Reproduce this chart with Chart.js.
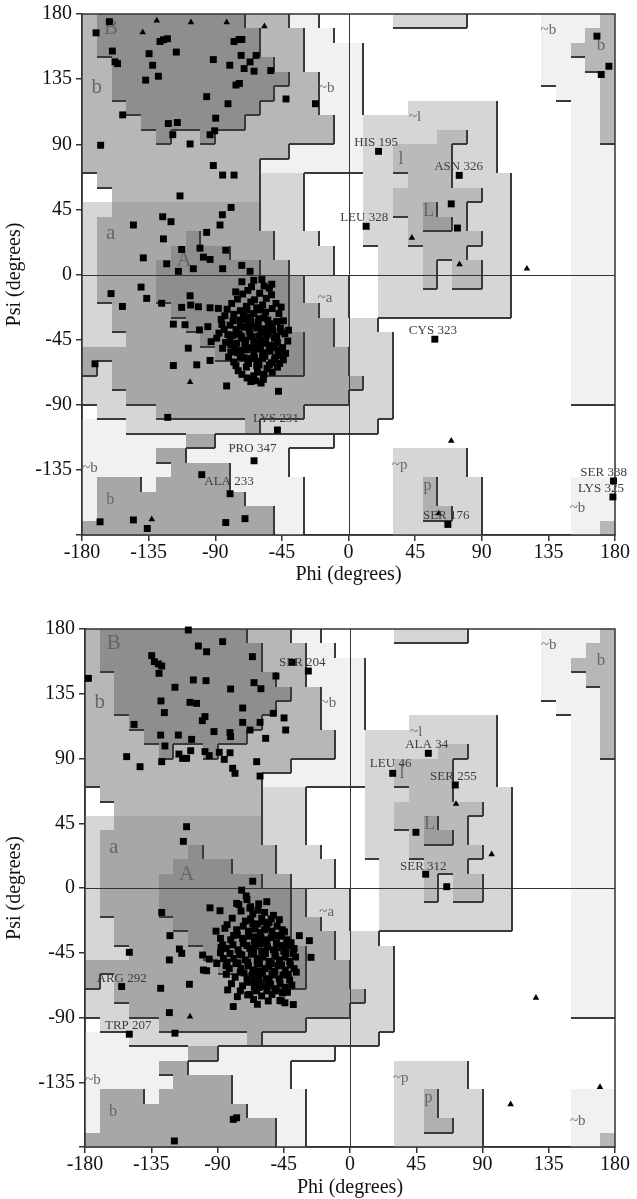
<!DOCTYPE html>
<html>
<head>
<meta charset="utf-8">
<script src="https://cdn.jsdelivr.net/npm/chart.js@4.4.1/dist/chart.umd.min.js"></script>
<style>
  body { margin: 0; background: #fff; }
  canvas { position: absolute; left: 0; }
  #top { top: 0; }
  #bottom { top: 595px; }
</style>
</head>
<body>
<canvas id="top" width="637" height="595"></canvas>
<canvas id="bottom" width="637" height="604"></canvas>
<script>
// tick values for both axes
var tickValues = [-180, -135, -90, -45, 0, 45, 90, 135, 180];

// PROCHECK region map, 10 degree cells, one row per psi band from 180 down to -180,
// run-length coded from phi -180 to 180.
// C core, b/a allowed, l/p allowed, L core, g generous, v generous (light), . disallowed
var regionRows = [
  "b1 C10 b3 v2 .5 g5 .5 v4 b1",
  "b1 C11 b3 v2 .14 v3 b2",
  "b1 C11 b3 v4 .12 v2 b3",
  "b2 C11 b2 v4 .12 v3 b2",
  "b2 C12 b2 v3 .12 v4 b1",
  "b2 C11 b3 v3 .13 v3 b1",
  "b3 C9 b4 v3 .3 g6 .5 v2 b1",
  "b4 C7 b6 v2 g9 .5 v2 b1",
  "b5 C1 b2 C1 b8 v2 g5 l2 g2 .5 v2 b1",
  "b14 v5 g2 l4 g3 .5 v3",
  "b12 v7 g2 l4 g3 .5 v3",
  ".1 b11 g3 .4 g3 l3 g4 .4 v3",
  ".2 b10 g3 .4 g2 l6 g2 .4 v3",
  "g2 a10 g3 .4 g2 l2 L1 l2 g3 .4 v3",
  "g1 a11 g3 .4 g3 l1 L2 l1 g3 .4 v3",
  "g1 a6 C1 a5 g3 .3 g3 l5 g2 .4 v3",
  "g1 a5 C4 a3 g4 .3 g3 l3 g3 .4 v3",
  "g1 a4 C7 a2 g3 .3 g3 l1 g1 l2 g2 .4 v3",
  "g1 a4 C9 a1 g3 .2 g3 l1 g1 l2 g2 .4 v3",
  "g1 a4 C9 a1 g3 .2 g9 .4 v3",
  "g2 a4 C8 a2 g2 .2 g9 .4 v3",
  "g2 a5 C7 a3 g3 .13 v3",
  "g3 a5 C7 a2 g4 .12 v3",
  "a9 C6 a3 g3 .12 v3",
  "a1 g1 a10 C3 a3 g3 .12 v3",
  "g2 a17 g2 .12 v3",
  "g3 a15 g3 .12 v3",
  ".1 g4 a10 g6 .15",
  "v3 g8 a1 g8 .16",
  "v7 a2 v8 .19",
  "v5 a2 v7 .7 g5 .10",
  "v6 a4 v4 .7 g5 .10",
  "v1 a3 v1 a5 v5 .6 g2 p1 g3 .6 v3",
  "v1 a10 v4 .6 g2 p1 g3 .6 v3",
  "v1 a12 v2 .6 g2 p2 g2 .6 v3",
  "a13 v2 .6 g6 .6 v2 b1"
];

// ---- upper plot: [phi, psi]
var topResidues = [
  [-161.5,174.7],[-170.5,167],[-159.5,154.4],[-157.7,146.9],[-156,145.7],[-152.5,110.3],[-167.4,89.3],
  [-127.3,161],[-125,162.2],[-122.3,162.9],[-134.7,152.6],[-132.3,144.6],[-128.4,137],[-137,134.3],[-116.3,153.7],
  [-95.8,122.9],[-91.3,148.5],[-80.2,144.6],[-81.4,118],[-89.7,108],[-121.7,104.3],[-115.6,105],[-118.7,96.6],
  [-107,90.2],[-93.5,96.6],[-90.4,99.3],[-77.3,161],[-73.9,162.4],[-72,162.4],[-72.5,151.4],[-70.5,142.3],
  [-66.5,146.9],[-63.8,140.5],[-62.4,151.4],[-52.5,140.9],[-73.7,132],[-76,130.9],[-42.2,121.3],[-22.3,118],
  [-91.3,75.3],[-85,68.7],[-77.3,68.7],[-113.8,54.3],[-79.3,46.3],[-85.2,41.3],[-86.8,34.2],[-95.8,29.1],
  [-125.5,39.9],[-119.9,36.5],[-145.3,34.2],[-125,24.6],[-138.6,11.5],[-112.7,17.3],[-100.3,18.2],[-98,12],
  [-93.5,10.4],[-82.9,16.8],[-85,4],[-72.1,6.3],[-122.8,7.4],[-114.9,2.2],[-104.8,4],[-66.5,2.2],
  [-160.4,-13.2],[-152.7,-22.1],[-140.1,-8.7],[-136.3,-16.5],[-126.2,-19.9],[-118.3,-34.3],[-110.4,-34.7],
  [-108.2,-50.9],[-118.3,-62.9],[-102.5,-62.4],[-93.5,-59.4],[-92.8,-46.4],[-171.2,-61.7],[-82.3,-77],
  [-47.3,-80.7],[-122.1,-98.7],[-48,-107.4],[-63.8,-128.7],[-99.1,-138.3],[-80,-151.5],[-167.8,-170.9],
  [-145.3,-169.6],[-135.9,-175.5],[-82.9,-171.4],[-69.9,-168.7],
  [-112.7,-22.7],[-107,-14.7],[-106.6,-21.1],[-101.4,-22.3],[-93.5,-23],[-87.9,-23.4],[-100.7,-38.3],
  [-95,-36],[-76.2,-12],[-78.9,-20],[-51.8,-6.7],
  [-72,-5],[-64,-4],[-57,-8],[-68,-11],[-60,-13],[-52,-14],[-75,-17],[-66,-19],[-58,-21],[-49,-20],
  [-82,-24],[-73,-25],[-64,-27],[-56,-26],[-47,-27],[-86,-31],[-78,-32],[-70,-31],[-61,-33],[-53,-34],
  [-44,-32],[-84,-38],[-76,-38],[-67,-39],[-59,-40],[-51,-39],[-43,-41],[-89,-44],[-80,-45],[-72,-44],
  [-64,-46],[-56,-45],[-48,-47],[-41,-46],[-85,-51],[-77,-51],[-69,-52],[-61,-51],[-53,-53],[-46,-52],
  [-81,-57],[-73,-57],[-66,-58],[-58,-58],[-50,-59],[-44,-59],[-76,-63],[-69,-64],[-62,-63],[-55,-65],
  [-48,-64],[-72,-69],[-64,-70],[-57,-69],[-66,-74],[-59,-75],
  [-68,-35],[-62,-37],[-55,-42],[-70,-48],[-60,-49],[-52,-49],[-65,-43],[-74,-41],[-58,-54],[-64,-55],
  [-50,-44],[-68,-60],[-54,-36],[-71,-28],[-62,-23],[-80,-35],[-57,-30],[-46,-37],[-83,-47],[-75,-54],
  [-61,-60],[-47,-56],[-66,-32],[-52,-61],[-78,-42],[-69,-22],[-59,-46],[-73,-36],
  [-69.5,-36.5],[-63.5,-35.5],[-57.5,-37.5],[-51.5,-36.5],[-45.5,-39.5],[-72.5,-42.5],[-66.5,-41.5],
  [-60.5,-42.5],[-54.5,-40.5],[-48.5,-42.5],[-75.5,-47.5],[-69.5,-45.5],[-62.5,-47.5],[-56.5,-47.5],
  [-50.5,-50.5],[-44.5,-50.5],[-79.5,-53.5],[-72.5,-52.5],[-65.5,-50.5],[-59.5,-51.5],[-53.5,-51.5],
  [-47.5,-54.5],[-70.5,-57.5],[-63.5,-57.5],[-56.5,-56.5],[-49.5,-57.5],[-67.5,-61.5],[-60.5,-62.5],
  [-53.5,-62.5],[-46.5,-61.5],[-73.5,-31.5],[-67.5,-29.5],[-60.5,-30.5],[-54.5,-31.5],[-48.5,-32.5],
  [-77.5,-27.5],[-68.5,-24.5],[-59.5,-24.5],[-51.5,-23.5],[-63.5,-17.5],[-55.5,-16.5],[-81.5,-41.5],
  [-85.5,-34.5],[-79.5,-48.5],[-74.5,-66.5],[-61.5,-67.5],[-51.5,-67.5],[-68.5,-71.5],[-62.5,-73.5],
  [-42.5,-54.5],[-40.5,-38.5],[-87.5,-40.5],[-83.5,-28.5],[-65.5,-8.5],[-58.5,-3.5],[-71.5,-13.5],
  [-53.5,-9.5],[-45.5,-22.5],[-77.5,-60.5],[-57.5,-72.5],
  [20.3,85.1],[74.8,68.5],[69.4,48.8],[73.6,32.1],[11.9,33.3],[167.8,164.7],[175.9,143.9],[170.7,138.2],
  [58.3,-44.7],[67.1,-172.7],[179,-142.7],[178.6,-153.7]
];
var topGlycines = [
  [-129.5,175.4],[-106.4,174.3],[-82.3,174.3],[-139,167.4],[-56.8,171.5],[-107,-74.3],[-132.9,-169.1],
  [42.8,25.3],[75,7],[120.5,4],[69.4,-114.9],[61,-165.1]
];
var topLabels = [
  ["HIS 195", 18.7, 91.3], ["ASN 326", 74.3, 74.4], ["LEU 328", 10.6, 39.4], ["CYS 323", 57, -39],
  ["LYS 231", -48.9, -99.3], ["PRO 347", -64.9, -120.5], ["ALA 233", -80.7, -143.4],
  ["SER 176", 66, -166.3], ["SER 338", 172.3, -136.6], ["LYS 325", 170.5, -148]
];

// ---- lower plot
var bottomResidues = [
  [-177.7,145.7],[-109.8,179.3],[-103,168.2],[-97.4,164.2],[-86.5,171.2],[-66.3,160.8],[-134.7,161.5],
  [-132.9,157.3],[-130.2,155.7],[-127.9,154.3],[-129.7,149.2],[-106.4,144.6],[-97.8,144.1],[-118.9,139.5],
  [-81.1,138.3],[-65.2,142.7],[-60.5,138.5],[-50.3,147.3],[-39.2,156.8],[-28.3,150.8],[-128.4,130],
  [-108.7,129],[-104.2,128.3],[-126.1,121.9],[-72.9,125.1],[-98.5,119.1],[-100.3,116.3],[-72.9,115.1],
  [-52.1,121.4],[-44.8,118.2],[-43.7,109.8],[-61.1,115.1],[-67.9,109.8],[-57.3,104],[-146.7,113.7],
  [-128.6,106.3],[-116.6,106.3],[-107.6,103.3],[-92.4,108.7],[-81.5,108],[-81.1,105.2],[-63.4,87.8],
  [-125.7,98.7],[-116.2,93.1],[-113.7,90.1],[-111,90.1],[-108.2,95.4],[-98.5,94.8],[-95.6,92],[-88.8,94.3],
  [-85.4,89.4],[-81.5,94],[-151.7,91.3],[-142.6,84.3],[-127.9,87.8],[-79.7,83.2],[-78.1,79.7],[-61.1,77.8],
  [-111,42.6],[-113.2,32.4],
  [-66.1,4.7],[-73.6,-1.5],[-127.9,-17],[-95.1,-13.8],[-88.3,-15.8],[-77,-10.7],[-67.5,-13],[-122.3,-33.1],
  [-149.9,-44.7],[-115.9,-42.4],[-114.3,-45.4],[-122.7,-50],[-100.1,-46.6],[-95.6,-49.4],[-99.6,-57],
  [-97.4,-57.5],[-87.6,-41.3],[-84.2,-54],[-155.1,-68.5],[-128.6,-69.7],[-109.1,-66.9],[-83.1,-70.8],
  [-76.5,-75.5],[-79.3,-82.4],[-69.5,-74.3],[-62.9,-80.8],[-61.8,-69.2],[-47.6,-78.2],[-44.2,-79.8],
  [-38.5,-81],[-34.4,-33.1],[-27.6,-36.6],[-26.5,-48.2],[-122.7,-86.6],[-118.9,-100.9],[-149.9,-101.6],
  [-79.3,-160.8],[-77,-159.7],[-119.3,-175.8],
  [-70,-8],[-62,-11],[-74,-16],[-66,-18],[-58,-17],[-80,-21],[-71,-23],[-63,-25],[-55,-24],[-48,-22],
  [-85,-28],[-77,-29],[-69,-30],[-61,-31],[-53,-30],[-46,-29],[-88,-35],[-81,-36],[-73,-35],[-65,-37],
  [-57,-36],[-50,-38],[-43,-36],[-84,-42],[-76,-43],[-68,-42],[-60,-44],[-52,-43],[-45,-44],[-38,-42],
  [-86,-49],[-79,-49],[-71,-50],[-63,-49],[-55,-51],[-48,-50],[-41,-51],[-82,-56],[-74,-56],[-66,-57],
  [-58,-56],[-51,-58],[-44,-57],[-38,-56],[-78,-62],[-70,-63],[-62,-62],[-55,-64],[-48,-63],[-41,-64],
  [-73,-68],[-65,-69],[-58,-68],[-51,-70],[-44,-69],[-68,-74],[-60,-75],[-53,-74],[-46,-73],
  [-64,-34],[-56,-41],[-67,-46],[-59,-48],[-51,-46],[-63,-53],[-55,-55],[-70,-40],[-47,-40],[-62,-58],
  [-69,-54],[-53,-60],[-44,-48],[-75,-46],[-58,-29],[-66,-25],[-50,-33],[-72,-59],[-57,-63],[-49,-54],
  [-61,-39],[-79,-33],[-42,-60],[-65,-65],[-54,-67],[-76,-52],[-60,-21],[-68,-14],[-52,-19],[-84,-60],
  [-88,-45],[-91,-30],[-40,-38],[-37,-48],
  [-72.5,-26.5],[-64.5,-28.5],[-56.5,-27.5],[-49.5,-26.5],[-76.5,-32.5],[-68.5,-33.5],[-60.5,-34.5],
  [-53.5,-34.5],[-46.5,-33.5],[-79.5,-39.5],[-72.5,-38.5],[-64.5,-40.5],[-56.5,-38.5],[-49.5,-41.5],
  [-42.5,-40.5],[-81.5,-45.5],[-73.5,-46.5],[-65.5,-44.5],[-57.5,-45.5],[-50.5,-47.5],[-43.5,-45.5],
  [-77.5,-52.5],[-69.5,-51.5],[-61.5,-52.5],[-53.5,-52.5],[-46.5,-53.5],[-40.5,-53.5],[-74.5,-58.5],
  [-66.5,-60.5],[-59.5,-59.5],[-52.5,-60.5],[-45.5,-60.5],[-69.5,-65.5],[-61.5,-66.5],[-54.5,-66.5],
  [-47.5,-66.5],[-63.5,-71.5],[-56.5,-71.5],[-49.5,-71.5],[-42.5,-72.5],[-67.5,-21.5],[-59.5,-23.5],
  [-53.5,-21.5],[-83.5,-25.5],[-86.5,-39.5],[-83.5,-51.5],[-80.5,-66.5],[-74.5,-71.5],[-65.5,-77.5],
  [-55.5,-78.5],[-46.5,-78.5],[-39.5,-67.5],[-36.5,-58.5],[-38.5,-45.5],[-44.5,-30.5],[-62.5,-15.5],
  [-75.5,-11.5],[-56.5,-9.5],[-90.5,-52.5],[-70.5,-5.5],
  [53.2,93.6],[29,79.7],[71.5,71.6],[44.8,38.7],[51.4,9.6],[65.7,0.9]
];
var bottomGlycines = [
  [-108.7,-89.4],[72,58.4],[96.2,23.4],[126.3,-76.3],[109.1,-150.4],[169.8,-138.4]
];
var bottomLabels = [
  ["SER 204", -32.4, 156.8], ["ALA 34", 52.1, 99.4], ["LEU 46", 27.6, 86.2], ["SER 255", 70.2, 77.4],
  ["SER 312", 49.8, 14.8], ["ARG 292", -155.1, -62.9], ["TRP 207", -150.6, -95.8]
];

// region names printed inside the map: text, phi, psi
var regionNames = [
  ["B", -160.4, 169.7], ["b", -170, 129], ["~b", -14.7, 128.6], ["a", -160.6, 28.4], ["A", -111, 9.7],
  ["~a", -15.8, -16.6], ["~b", -174.6, -133.5], ["b", -161, -155.6], ["~l", 45, 108.7], ["l", 35.4, 79.4],
  ["L", 54, 44], ["~p", 34.5, -132], ["p", 53.4, -145.7], ["~b", 135, 168.6], ["b", 170.5, 158.3],
  ["~b", 154.7, -161.7]
];
var regionNameSize = [21, 21, 15, 21, 21, 15, 15, 16, 15, 18, 18, 15, 16, 15, 17, 15];

var shades = { '.': null, v: '#f1f1f1', g: '#d6d6d6', b: '#b7b7b7', a: '#a7a7a7',
               l: '#bababa', p: '#afafaf', C: '#8e8e8e', L: '#9d9d9d' };
var levels = { '.': 0, v: 1, g: 2, a: 3, b: 3, l: 3, p: 3, C: 4, L: 4 };

var grid = regionRows.map(function (r) {
  return r.split(' ').map(function (t) { return t[0].repeat(+t.slice(1)); }).join('');
});

var serif = "'Liberation Serif', 'DejaVu Serif', serif";

var regionPlugin = {
  id: 'regions',
  beforeDatasetsDraw: function (chart) {
    var ctx = chart.ctx, area = chart.chartArea;
    var xs = chart.scales.x, ys = chart.scales.y;
    var px = function (v) { return Math.round(xs.getPixelForValue(v)); };
    var py = function (v) { return Math.round(ys.getPixelForValue(v)); };
    ctx.save();
    // shaded cells
    grid.forEach(function (row, j) {
      for (var i = 0; i < 36; i++) {
        var c = shades[row[i]];
        if (!c) continue;
        var x0 = px(-180 + 10 * i), x1 = px(-170 + 10 * i);
        var y0 = py(180 - 10 * j), y1 = py(170 - 10 * j);
        ctx.fillStyle = c;
        ctx.fillRect(x0, y0, x1 - x0, y1 - y0);
      }
    });
    // boundary lines on the right / lower side of each region
    ctx.strokeStyle = '#3a3a3a';
    ctx.lineWidth = 2;
    ctx.beginPath();
    grid.forEach(function (row, j) {
      for (var i = 0; i < 36; i++) {
        var lv = levels[row[i]];
        var x0 = px(-180 + 10 * i), x1 = px(-170 + 10 * i);
        var y0 = py(180 - 10 * j), y1 = py(170 - 10 * j);
        if (i < 35 && lv > levels[row[i + 1]]) { ctx.moveTo(x1, y0); ctx.lineTo(x1, y1); }
        if (j < 35 && lv > levels[grid[j + 1][i]]) { ctx.moveTo(x0, y1); ctx.lineTo(x1, y1); }
      }
    });
    ctx.stroke();
    // zero lines and frame
    ctx.strokeStyle = '#333';
    ctx.lineWidth = 1;
    ctx.beginPath();
    ctx.moveTo(px(0) + 0.5, area.top); ctx.lineTo(px(0) + 0.5, area.bottom);
    ctx.moveTo(area.left, py(0) + 0.5); ctx.lineTo(area.right, py(0) + 0.5);
    ctx.stroke();
    ctx.lineWidth = 1.5;
    ctx.strokeRect(area.left, area.top, area.width, area.height);
    // region names
    ctx.fillStyle = '#666';
    ctx.textAlign = 'center';
    ctx.textBaseline = 'middle';
    regionNames.forEach(function (n, k) {
      ctx.font = regionNameSize[k] + 'px ' + serif;
      ctx.fillText(n[0], xs.getPixelForValue(n[1]), ys.getPixelForValue(n[2]));
    });
    ctx.restore();
  },
  afterDatasetsDraw: function (chart, args, opts) {
    var ctx = chart.ctx, xs = chart.scales.x, ys = chart.scales.y;
    ctx.save();
    ctx.fillStyle = '#3c3c3c';
    ctx.font = '13px ' + serif;
    ctx.textAlign = 'center';
    ctx.textBaseline = 'middle';
    (opts.labels || []).forEach(function (l) {
      ctx.fillText(l[0], xs.getPixelForValue(l[1]), ys.getPixelForValue(l[2]));
    });
    ctx.restore();
  }
};

function toPoints(arr) {
  return arr.map(function (p) { return { x: p[0], y: p[1] }; });
}

function makePlot(id, residues, glycines, labels, yAxisWidth, xAxisHeight, padTop, titleGap) {
  var axisFont = { family: serif, size: 20, lineHeight: 1 };
  return new Chart(document.getElementById(id).getContext('2d'), {
    type: 'scatter',
    data: {
      datasets: [{
        data: toPoints(residues),
        pointStyle: 'rect', pointRadius: 4.9, backgroundColor: '#000', borderWidth: 0, clip: false
      }, {
        data: toPoints(glycines),
        pointStyle: 'triangle', pointRadius: 3.8, backgroundColor: '#000', borderWidth: 0, clip: false
      }]
    },
    options: {
      responsive: false,
      animation: false,
      devicePixelRatio: 1,
      events: [],
      layout: { padding: { top: padTop, right: 22, left: 0, bottom: 0 } },
      plugins: { legend: { display: false }, tooltip: { enabled: false }, regions: { labels: labels } },
      scales: {
        x: {
          type: 'linear', min: -180, max: 180,
          afterBuildTicks: function (s) { s.ticks = tickValues.map(function (v) { return { value: v }; }); },
          afterFit: function (s) { s.height = xAxisHeight; },
          ticks: { font: axisFont, color: '#111', padding: 2, maxRotation: 0, autoSkip: false },
          grid: { drawOnChartArea: false, drawTicks: true, tickLength: 6, color: '#333', lineWidth: 1.5 },
          border: { display: true, color: '#333', width: 1.5 },
          title: { display: true, text: 'Phi (degrees)', font: axisFont, color: '#111',
                   padding: { top: 0, bottom: titleGap } }
        },
        y: {
          type: 'linear', min: -180, max: 180,
          afterBuildTicks: function (s) { s.ticks = tickValues.map(function (v) { return { value: v }; }); },
          afterFit: function (s) { s.width = yAxisWidth; },
          ticks: { font: axisFont, color: '#111', padding: 4, autoSkip: false,
                   callback: function (v) { return v === -180 ? '' : v; } },
          grid: { drawOnChartArea: false, drawTicks: true, tickLength: 6, color: '#333', lineWidth: 1.5 },
          border: { display: true, color: '#333', width: 1.5 },
          title: { display: true, text: 'Psi (degrees)', font: axisFont, color: '#111',
                   padding: { top: 5, bottom: 0 } }
        }
      }
    },
    plugins: [regionPlugin]
  });
}

makePlot('top', topResidues, topGlycines, topLabels, 82, 60, 10, 10);
makePlot('bottom', bottomResidues, bottomGlycines, bottomLabels, 85, 52, 34, 1);
</script>
</body>
</html>
